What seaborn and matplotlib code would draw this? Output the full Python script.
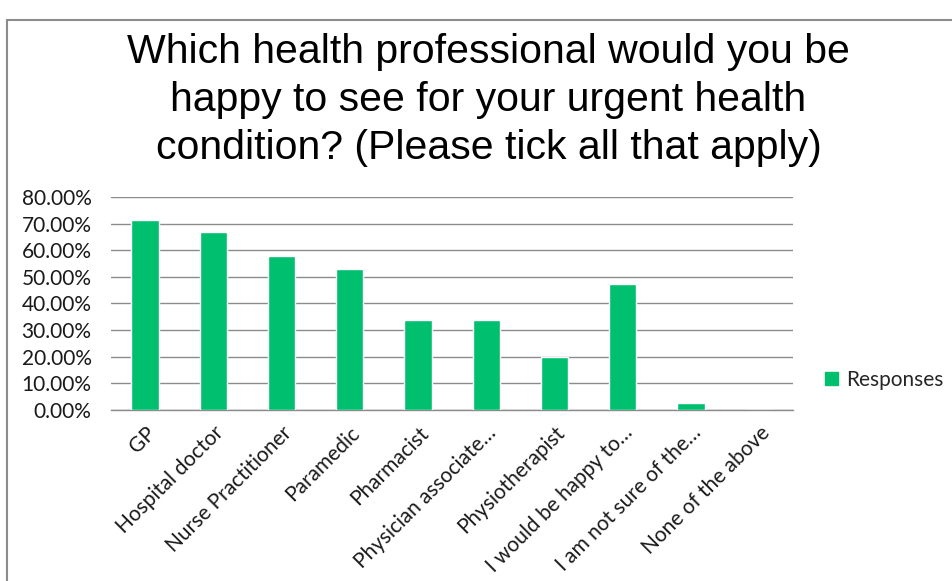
import numpy as np
import pandas as pd
import seaborn as sns
import matplotlib.pyplot as plt
from matplotlib.patches import Rectangle
from matplotlib.ticker import FuncFormatter, FixedLocator

# data
categories = ["GP", "Hospital doctor", "Nurse Practitioner", "Paramedic", "Pharmacist",
              "Physician associate…", "Physiotherapist", "I would be happy to…",
              "I am not sure of the…", "None of the above"]
responses = [71.4, 67.0, 57.8, 52.9, 33.7, 33.7, 20.0, 47.5, 2.7, 0.0]
series_name = "Responses"
title = "Which health professional would you be\nhappy to see for your urgent health\ncondition? (Please tick all that apply)"

df = pd.DataFrame({"Category": categories, "Value": responses})

sns.set_style("white")
plt.rcParams['font.family'] = ['Lato', 'DejaVu Sans']

fig = plt.figure(figsize=(9.53, 5.81), dpi=100)
ax = fig.add_axes([0.1165, 0.2943, 0.8325 - 0.1165, 0.661 - 0.2943])

bar_color = "#00BF6F"
sns.barplot(data=df, x="Category", y="Value", color=bar_color, width=0.4,
            saturation=1, ax=ax, zorder=3)

ax.set_ylim(0, 80)
ax.set_xlim(-0.5, len(categories) - 0.5)
ax.set_yticks(np.arange(0, 81, 10))
ax.yaxis.set_major_formatter(FuncFormatter(lambda v, p: f"{v:.2f}%"))
ax.grid(axis="y", color="#8c8c8c", linewidth=1, zorder=0)
ax.set_axisbelow(True)
ax.set_xlabel("")
ax.set_ylabel("")

for s in ["top", "right", "left"]:
    ax.spines[s].set_visible(False)
ax.spines["bottom"].set_color("#8c8c8c")
ax.spines["bottom"].set_linewidth(1)

ax.tick_params(axis="y", length=0, labelsize=15, pad=14, labelcolor="#1a1a1a")
ax.tick_params(axis="x", which="major", length=0, labelsize=15, pad=9, labelcolor="#1a1a1a")
ax.xaxis.set_minor_locator(FixedLocator(np.arange(-0.5, len(categories), 1.0)))
ax.tick_params(axis="x", which="minor", length=6, width=1, color="#8c8c8c", direction="out")
plt.setp(ax.get_xticklabels(), rotation=45, ha="right", rotation_mode="anchor")

# title in Arial-like font
fig.text(0.5125, 0.828, title, ha="center", va="center", fontsize=29.5,
         family=["Liberation Sans", "DejaVu Sans"], linespacing=1.34, color="black")

# legend
handle = Rectangle((0, 0), 1, 1, color=bar_color)
fig.legend([handle], [series_name], loc="center left", bbox_to_anchor=(0.855, 0.346),
           frameon=False, fontsize=15, handlelength=0.6, handleheight=0.6,
           handletextpad=0.4, borderpad=0)

# chart frame
fig.add_artist(plt.Line2D([0.0075, 0.0075], [0, 0.965], transform=fig.transFigure,
                          color="#8c8c8c", linewidth=1.5))
fig.add_artist(plt.Line2D([0.0075, 1.0], [0.965, 0.965], transform=fig.transFigure,
                          color="#8c8c8c", linewidth=1.5))

fig.savefig("out.png", dpi=100)
